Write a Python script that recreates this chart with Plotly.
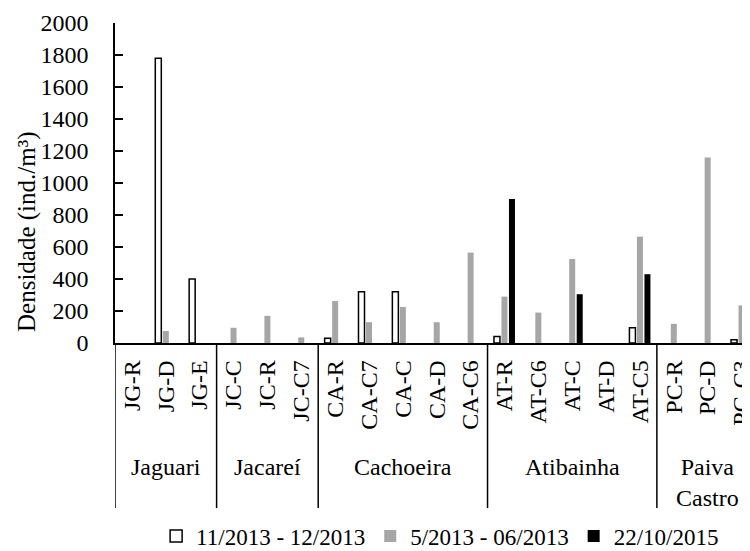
import plotly.graph_objects as go

categories = ["JG-R", "JG-D", "JG-E", "JC-C", "JC-R", "JC-C7",
              "CA-R", "CA-C7", "CA-C", "CA-D", "CA-C6",
              "AT-R", "AT-C6", "AT-C", "AT-D", "AT-C5",
              "PC-R", "PC-D", "PC-C3"]
groups = ["Jaguari", "Jacareí", "Cachoeira", "Atibainha", "Paiva<br>Castro"]
group_sizes = [3, 3, 5, 5, 3]

series_names = ["11/2013 - 12/2013", "5/2013 - 06/2013", "22/10/2015"]
s_nov2013 = [None, 1780, 400, None, None, None, 30, 320, 320, None, None,
             40, None, None, None, 95, None, None, 20]
s_may2013 = [None, 75, None, 95, 170, 35, 262, 130, 225, 130, 565,
             290, 190, 525, None, 665, 120, 1160, 235]
s_oct2015 = [None, None, None, None, None, None, None, None, None, None, None,
             900, None, 305, None, 430, None, None, None]

y_ticks = [0, 200, 400, 600, 800, 1000, 1200, 1400, 1600, 1800, 2000]

FONT = "Liberation Serif, Times New Roman, serif"
idx = list(range(len(categories)))

fig = go.Figure()
fig.add_trace(go.Bar(x=idx, y=s_nov2013, name=series_names[0],
                     marker=dict(color="white", line=dict(color="black", width=1.5))))
fig.add_trace(go.Bar(x=idx, y=s_may2013, name=series_names[1],
                     marker=dict(color="#a6a6a6", line=dict(width=0))))
fig.add_trace(go.Bar(x=idx, y=s_oct2015, name=series_names[2],
                     marker=dict(color="black", line=dict(width=0))))

# group separators and labels
shapes = []
annotations = []
start = 0
bounds = [-0.5]
for g, n in zip(groups, group_sizes):
    end = start + n
    bounds.append(end - 0.5)
    annotations.append(dict(x=start + (n - 1) / 2, y=-0.34, xref="x", yref="paper",
                            text=g, showarrow=False, yanchor="top",
                            font=dict(family=FONT, size=24, color="black")))
    start = end
for b in bounds[:-1]:
    shapes.append(dict(type="line", xref="x", yref="paper", x0=b, x1=b,
                       y0=0, y1=-0.516, line=dict(color="black", width=1.5)))

annotations.append(dict(x=-0.1386, y=0.35, xref="paper", yref="paper",
                        text="Densidade (ind./m³)", showarrow=False, textangle=-90,
                        xanchor="center", yanchor="middle",
                        font=dict(family=FONT, size=25, color="black")))

fig.update_layout(
    width=742, height=543,
    margin=dict(l=107, r=0, t=15, b=208, autoexpand=False),
    paper_bgcolor="white", plot_bgcolor="white",
    barmode="group", bargap=0.335, bargroupgap=0.2,
    font=dict(family=FONT, size=24, color="black"),
    showlegend=True,
    legend=dict(orientation="h", x=0.512, xanchor="center",
                yref="container", y=0.0276, yanchor="middle",
                font=dict(family=FONT, size=23, color="black"),
                itemwidth=30, tracegroupgap=0),
    shapes=shapes, annotations=annotations,
)
fig.update_xaxes(
    tickmode="array", tickvals=idx, ticktext=categories, tickangle=-90,
    range=[-0.5, 18.25], showline=True, linecolor="black", linewidth=1.5,
    ticks="", showgrid=False, zeroline=False, ticklabelstandoff=6,
    ticklabeloverflow="allow", automargin=False,
    tickfont=dict(family=FONT, size=24, color="black"),
)
fig.update_yaxes(
    range=[0, 2000], tickvals=y_ticks, showline=True, linecolor="black", linewidth=1.5,
    ticks="inside", ticklen=8, tickwidth=1.5, tickcolor="black",
    showgrid=False, zeroline=False, ticklabelstandoff=20, automargin=False,
    tickfont=dict(family=FONT, size=24, color="black"),
)

fig.write_html("out.html")
